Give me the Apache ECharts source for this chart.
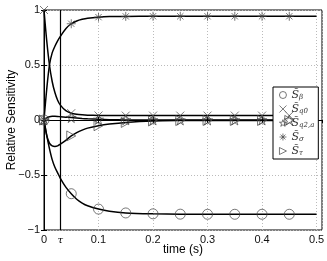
<!DOCTYPE html>
<html><head><meta charset="utf-8">
<script src="https://cdn.jsdelivr.net/npm/echarts@6/dist/echarts.min.js"></script>
<style>html,body{margin:0;padding:0;background:#fff}#c{width:327px;height:261px}</style>
</head><body><div id="c"></div>
<script>
// Curve sample times (s)
const tLine = [0, 0.005, 0.01, 0.015, 0.02, 0.025, 0.03, 0.04, 0.05, 0.06, 0.07, 0.08, 0.1, 0.12, 0.15, 0.2, 0.25, 0.3, 0.35, 0.4, 0.45, 0.5];
const lineBeta  = [0, -0.14, -0.26, -0.36, -0.43, -0.48, -0.53, -0.61, -0.67, -0.72, -0.755, -0.78, -0.81, -0.83, -0.845, -0.853, -0.856, -0.857, -0.857, -0.857, -0.857, -0.857];
const lineQ0    = [1, 0.72, 0.5, 0.35, 0.25, 0.18, 0.135, 0.085, 0.062, 0.052, 0.047, 0.044, 0.041, 0.04, 0.04, 0.04, 0.04, 0.04, 0.04, 0.04, 0.04, 0.04];
const lineQ2a   = [0, 0.02, 0.03, 0.033, 0.033, 0.032, 0.03, 0.026, 0.022, 0.018, 0.014, 0.011, 0.006, 0.003, 0.001, 0, 0, 0, 0, 0, 0, 0];
const lineSigma = [0, 0.28, 0.5, 0.61, 0.67, 0.72, 0.76, 0.83, 0.875, 0.9, 0.915, 0.925, 0.935, 0.94, 0.942, 0.943, 0.943, 0.943, 0.943, 0.943, 0.943, 0.943];
const lineTau   = [0, -0.14, -0.21, -0.235, -0.24, -0.235, -0.22, -0.185, -0.145, -0.115, -0.092, -0.074, -0.052, -0.037, -0.022, -0.009, -0.005, -0.004, -0.004, -0.004, -0.004, -0.004];
// Marker sample times and values
const tMark = [0, 0.05, 0.1, 0.15, 0.2, 0.25, 0.3, 0.35, 0.4, 0.45];
const markBeta  = [0, -0.67, -0.81, -0.845, -0.853, -0.856, -0.857, -0.857, -0.857, -0.857];
const markQ0    = [1, 0.062, 0.041, 0.04, 0.04, 0.04, 0.04, 0.04, 0.04, 0.04];
const markQ2a   = [0, 0.022, 0.006, 0.001, 0, 0, 0, 0, 0, 0];
const markSigma = [0, 0.875, 0.935, 0.942, 0.943, 0.943, 0.943, 0.943, 0.943, 0.943];
const markTau   = [0, -0.145, -0.052, -0.022, -0.009, -0.005, -0.004, -0.004, -0.004, -0.004];
const tau = 0.025;
const legendNames = ['beta', 'q0', 'q2a', 'sigma', 'tau'];
const legendSubs = {beta: 'β', q0: 'q0', q2a: 'q2,a', sigma: 'σ', tau: 'τ'};

const pair = (xs, ys) => xs.map((x, i) => [x, ys[i]]);
const symbols = {
  beta: 'circle',
  q0: 'path://M0,0L10,10M10,0L0,10',
  q2a: 'path://M0,-10L2.25,-3.09L9.51,-3.09L3.63,1.18L5.88,8.09L0,3.82L-5.88,8.09L-3.63,1.18L-9.51,-3.09L-2.25,-3.09Z',
  sigma: 'path://M0,-10L0,10M-10,0L10,0M-7,-7L7,7M-7,7L7,-7',
  tau: 'path://M0,0L10,5L0,10Z'
};
const sizes = {beta: 10, q0: 8, q2a: 10, sigma: 9, tau: [9, 10]};
const lines = {beta: lineBeta, q0: lineQ0, q2a: lineQ2a, sigma: lineSigma, tau: lineTau};
const marks = {beta: markBeta, q0: markQ0, q2a: markQ2a, sigma: markSigma, tau: markTau};
const markStyle = {color: 'rgba(0,0,0,0)', borderColor: '#444', borderWidth: 0.9};

const series = [];
legendNames.forEach(k => {
  series.push({
    name: 'line_' + k, type: 'line', data: pair(tLine, lines[k]), smooth: 0.3,
    showSymbol: false, lineStyle: {color: '#000', width: 1.5}, silent: true, z: 3
  });
});
legendNames.forEach(k => {
  series.push({
    name: k, type: 'scatter', data: pair(tMark, marks[k]), symbol: symbols[k], symbolSize: sizes[k],
    itemStyle: markStyle, z: 4
  });
});
series.push({
  name: 'tauline', type: 'line', data: [], silent: true,
  markLine: {
    symbol: 'none', silent: true, animation: false,
    lineStyle: {color: '#000', width: 1.2, type: 'solid'},
    label: {show: true, position: 'start', formatter: 'τ', fontFamily: 'DejaVu Serif', fontStyle: 'italic', fontSize: 10, color: '#000', distance: 5},
    data: [{xAxis: tau}]
  }
});

const fmtNum = v => {
  if (Math.abs(v * 10 - Math.round(v * 10)) > 1e-6) return '';
  return String(Math.round(v * 10) / 10).replace('-', '−');
};
const labelFont = {fontFamily: 'Liberation Sans', fontSize: 11, color: '#111'};
const chart = echarts.init(document.getElementById('c'), null, {renderer: 'canvas'});
chart.setOption({
  animation: false,
  grid: {left: 44, right: 5, top: 10, bottom: 31, outerBoundsMode: 'none', containLabel: false, show: true, borderColor: '#000', borderWidth: 1, backgroundColor: 'transparent'},
  xAxis: [{
    type: 'value', min: 0, max: 0.51, interval: 0.1,
    name: 'time (s)', nameLocation: 'middle', nameGap: 14, nameMoveOverlap: false,
    nameTextStyle: {fontFamily: 'Liberation Sans', fontSize: 12, color: '#000', verticalAlign: 'top'},
    axisLine: {show: true, lineStyle: {color: '#000'}},
    axisTick: {show: true, inside: true, length: 3, lineStyle: {color: '#000'}},
    axisLabel: Object.assign({formatter: fmtNum, margin: 4, showMaxLabel: false}, labelFont),
    splitLine: {show: true, lineStyle: {color: '#bbb', type: [1, 2], width: 1}}
  }, {
    type: 'value', position: 'top', min: 0, max: 0.51, interval: 0.1,
    axisLine: {show: false}, axisTick: {show: true, inside: true, length: 3, lineStyle: {color: '#000'}},
    axisLabel: {show: false}, splitLine: {show: false}
  }],
  yAxis: [{
    type: 'value', min: -1, max: 1, interval: 0.5,
    name: 'Relative Sensitivity', nameLocation: 'middle', nameGap: 26, nameMoveOverlap: false,
    nameTextStyle: {fontFamily: 'Liberation Sans', fontSize: 12, color: '#000'},
    axisLine: {show: true, lineStyle: {color: '#000'}},
    axisTick: {show: true, inside: true, length: 3, lineStyle: {color: '#000'}},
    axisLabel: Object.assign({formatter: fmtNum, margin: 4}, labelFont),
    splitLine: {show: true, lineStyle: {color: '#bbb', type: [1, 2], width: 1}}
  }, {
    type: 'value', position: 'right', min: -1, max: 1, interval: 0.5,
    axisLine: {show: false}, axisTick: {show: true, inside: true, length: 3, lineStyle: {color: '#000'}},
    axisLabel: {show: false}, splitLine: {show: false}
  }],
  legend: {
    data: legendNames.map(k => ({name: k, icon: symbols[k]})), orient: 'vertical', left: 273, top: 87,
    backgroundColor: '#fff', borderColor: '#000', borderWidth: 1, padding: [2, 4, 2, 6],
    itemWidth: 7, itemHeight: 7, itemGap: 2, selectedMode: false,
    itemStyle: markStyle,
    formatter: n => '{s|S̃}{b|' + legendSubs[n] + '}',
    textStyle: {
      color: '#333', padding: [0, 0, 0, 0], lineHeight: 12,
      rich: {
        s: {fontFamily: 'DejaVu Serif', fontStyle: 'italic', fontSize: 11, color: '#333', lineHeight: 12},
        b: {fontFamily: 'DejaVu Serif', fontStyle: 'italic', fontSize: 7, color: '#333', lineHeight: 12, padding: [5, 0, 0, 0]}
      }
    }
  },
  series: series
});
</script></body></html>
